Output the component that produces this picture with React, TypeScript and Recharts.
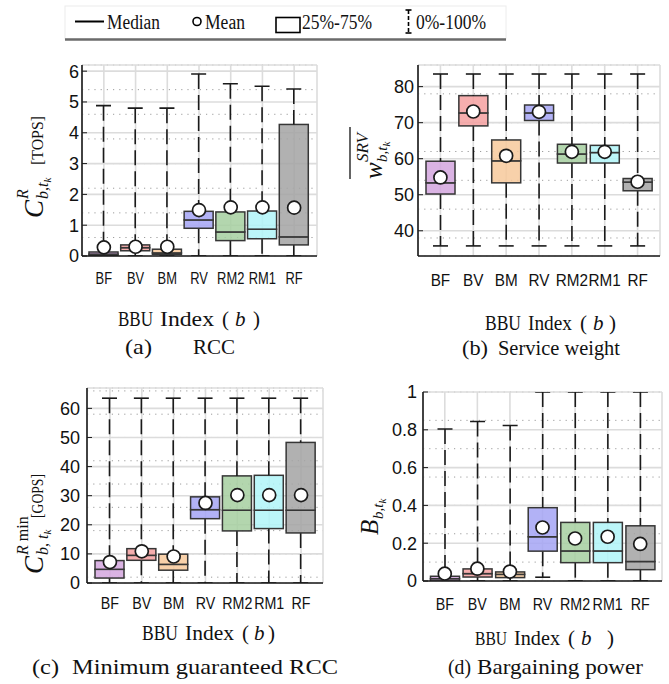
import React from "react";
import { ComposedChart, Bar, Line, XAxis, YAxis, CartesianGrid } from "recharts";

const bbu = ["BF", "BV", "BM", "RV", "RM2", "RM1", "RF"];
const boxColors = ["#d4a6de", "#f5a0a0", "#f7c99b", "#a5a5f4", "#a6cfa0", "#b0f4f8", "#a3a3a3"];

// (a) RCC [TOPS]
const rccMin = [0, 0, 0, 0, 0, 0, 0];
const rccQ1 = [0.02, 0.17, 0.05, 0.9, 0.5, 0.56, 0.36];
const rccMedian = [0.06, 0.27, 0.1, 1.17, 0.78, 0.87, 0.62];
const rccQ3 = [0.13, 0.36, 0.22, 1.45, 1.43, 1.46, 4.27];
const rccMax = [4.88, 4.8, 4.8, 5.91, 5.59, 5.51, 5.42];
const rccMean = [0.28, 0.3, 0.3, 1.49, 1.58, 1.58, 1.57];

// (b) service weight
const swMin = [35.8, 35.8, 35.8, 35.8, 35.8, 35.8, 35.8];
const swQ1 = [50.2, 69.1, 53.3, 70.6, 58.8, 58.8, 51.1];
const swMedian = [53.3, 72.7, 59.4, 72.7, 61.3, 61.7, 53.5];
const swQ3 = [59.3, 77.5, 65.2, 74.9, 64.0, 63.7, 54.5];
const swMax = [83.5, 83.5, 83.5, 83.5, 83.5, 83.5, 83.5];
const swMean = [54.8, 73.1, 60.8, 73.0, 61.9, 61.9, 53.6];

// (c) minimum guaranteed RCC [GOPS]
const mgMin = [0, 0, 0, 0, 0, 0, 0];
const mgQ1 = [1.7, 7.8, 4.4, 22.1, 17.9, 18.7, 17.2];
const mgMedian = [4.7, 9.5, 6.4, 25.2, 25.0, 25.0, 25.0];
const mgQ3 = [7.7, 11.8, 9.9, 29.6, 36.8, 37.0, 48.3];
const mgMax = [63.5, 63.5, 63.5, 63.5, 63.5, 63.5, 63.5];
const mgMean = [7.2, 10.9, 9.1, 27.5, 30.2, 30.2, 30.2];

// (d) bargaining power
const bpMin = [0, 0, 0, 0.02, 0, 0, 0];
const bpQ1 = [0.0, 0.021, 0.018, 0.158, 0.097, 0.097, 0.06];
const bpMedian = [0.012, 0.039, 0.035, 0.234, 0.159, 0.159, 0.103];
const bpQ3 = [0.025, 0.064, 0.048, 0.388, 0.31, 0.31, 0.292];
const bpMax = [0.804, 0.844, 0.823, 1.0, 1.0, 1.0, 1.0];
const bpMean = [0.039, 0.065, 0.05, 0.283, 0.225, 0.234, 0.196];

const rccTicks = [0, 1, 2, 3, 4, 5, 6];
const swTicks = [40, 50, 60, 70, 80];
const mgTicks = [0, 10, 20, 30, 40, 50, 60];
const bpTicks = [0, 0.2, 0.4, 0.6, 0.8, 1];

const SANS = "'Liberation Sans', Arial, sans-serif";
const SERIF = "'Liberation Serif', 'Times New Roman', serif";
const YW = 40;
const MT = 10;
const MR = 10;
const XH = 44;
const BOX_W = 29;
const CAP_W = 15;
const INK = "#1a1a1a";

const steps = (a: number, b: number, s: number) => {
  const out: number[] = [];
  for (let v = a; v <= b + 1e-9; v += s) out.push(Math.round(v * 1000) / 1000);
  return out;
};

function buildRows(min: number[], q1: number[], med: number[], q3: number[], max: number[], mean: number[]) {
  return bbu.map((name, i) => ({
    name,
    base: min[i],
    lowWhisker: q1[i] - min[i],
    lowBox: med[i] - q1[i],
    highBox: q3[i] - med[i],
    highWhisker: max[i] - q3[i],
    mean: mean[i],
  }));
}

type Cfg = {
  left: number; right: number; top: number; bottom: number;
  domain: [number, number]; ticks: number[]; minor: number[];
  padL: number; padR: number; gap: number; labelDy: number; xScale: number;
};

const Empty = () => <g />;

const LowWhisker = (p: any) => {
  const cx = p.x + p.width / 2;
  const yb = p.y + p.height;
  return (
    <g>
      <line x1={cx} x2={cx} y1={p.y} y2={yb} stroke={INK} strokeWidth={1.6} strokeDasharray="15 6" />
      <line x1={cx - CAP_W / 2} x2={cx + CAP_W / 2} y1={yb} y2={yb} stroke={INK} strokeWidth={1.6} />
    </g>
  );
};

const HighWhisker = (p: any) => {
  const cx = p.x + p.width / 2;
  return (
    <g>
      <line x1={cx} x2={cx} y1={p.y} y2={p.y + p.height} stroke={INK} strokeWidth={1.6} strokeDasharray="15 6" />
      <line x1={cx - CAP_W / 2} x2={cx + CAP_W / 2} y1={p.y} y2={p.y} stroke={INK} strokeWidth={1.6} />
    </g>
  );
};

const BoxPart = (p: any) => (
  <rect x={p.x} y={p.y} width={p.width} height={Math.max(p.height, 0)}
    fill={boxColors[p.index % boxColors.length]} fillOpacity={0.85} stroke="#363636" strokeWidth={1.5} />
);

const MeanDot = (p: any) => (
  <circle key={`m${p.index}`} cx={p.cx} cy={p.cy} r={6.5} fill="#fff" stroke={INK} strokeWidth={1.7} />
);

function BoxPanel({ rows, cfg }: { rows: any[]; cfg: Cfg }) {
  const plotW = cfg.right - cfg.left;
  const plotH = cfg.bottom - cfg.top;
  const xTick = (p: any) => (
    <text transform={`translate(${p.x},${MT + plotH + cfg.labelDy}) scale(${cfg.xScale},1)`} dy="0.36em"
      textAnchor="middle" fontSize={17} fontFamily={SANS} fill="#111">{p.payload.value}</text>
  );
  const yTick = (p: any) => (
    <text x={YW - cfg.gap} y={p.y} dy="0.36em" textAnchor="end"
      fontSize={18} fontFamily={SANS} fill="#111">{p.payload.value}</text>
  );
  return (
    <div style={{ position: "absolute", left: cfg.left - YW, top: cfg.top - MT }}>
      <ComposedChart width={YW + plotW + MR} height={MT + plotH + XH} data={rows}
        margin={{ top: MT, right: MR, bottom: 0, left: 0 }}>
        <YAxis yAxisId="minor" hide type="number" domain={cfg.domain} ticks={cfg.minor} allowDataOverflow />
        <CartesianGrid yAxisId="minor" vertical={false} stroke="#9c9c9c" strokeDasharray="1.2 5" />
        <CartesianGrid stroke="#dcdcdc" strokeWidth={1.6} />
        <XAxis dataKey="name" type="category" interval={0} height={XH}
          padding={{ left: cfg.padL, right: cfg.padR }} tickLine={false}
          axisLine={{ stroke: INK, strokeWidth: 1.6 }} tick={xTick} />
        <YAxis type="number" domain={cfg.domain} ticks={cfg.ticks} allowDataOverflow width={YW}
          interval={0} axisLine={{ stroke: INK, strokeWidth: 1.6 }} tickLine={{ stroke: INK }}
          tickSize={-5} tick={yTick} />
        <Bar dataKey="base" stackId="s" barSize={BOX_W} shape={Empty} isAnimationActive={false} />
        <Bar dataKey="lowWhisker" stackId="s" barSize={BOX_W} shape={LowWhisker} isAnimationActive={false} />
        <Bar dataKey="lowBox" stackId="s" barSize={BOX_W} shape={BoxPart} isAnimationActive={false} />
        <Bar dataKey="highBox" stackId="s" barSize={BOX_W} shape={BoxPart} isAnimationActive={false} />
        <Bar dataKey="highWhisker" stackId="s" barSize={BOX_W} shape={HighWhisker} isAnimationActive={false} />
        <Line dataKey="mean" stroke="none" dot={MeanDot} activeDot={false} isAnimationActive={false} />
      </ComposedChart>
    </div>
  );
}

const cfgA: Cfg = { left: 82, right: 317, top: 65, bottom: 256, domain: [0, 6.2], ticks: rccTicks,
  minor: steps(0, 6.2, 0.2), padL: 6, padR: 7, gap: 3, labelDy: 22, xScale: 0.76 };
const cfgB: Cfg = { left: 418, right: 660, top: 65, bottom: 256, domain: [33, 86], ticks: swTicks,
  minor: steps(34, 86, 2), padL: 6, padR: 6, gap: 4, labelDy: 24, xScale: 0.9 };
const cfgC: Cfg = { left: 87, right: 323, top: 388, bottom: 583, domain: [0, 67], ticks: mgTicks,
  minor: steps(0, 66, 2), padL: 7, padR: 6, gap: 7, labelDy: 20, xScale: 0.84 };
const cfgD: Cfg = { left: 423, right: 662, top: 392, bottom: 581, domain: [0, 1], ticks: bpTicks,
  minor: steps(0, 1, 0.05), padL: 5.5, padR: 5.5, gap: 6, labelDy: 23, xScale: 0.84 };

function T(props: { x: number; y: number; w?: number; size: number; italic?: boolean; children: React.ReactNode }) {
  return (
    <text x={props.x} y={props.y} fontSize={props.size} fontFamily={SERIF} fill="#111"
      fontStyle={props.italic ? "italic" : "normal"}
      textLength={props.w} lengthAdjust={props.w ? "spacingAndGlyphs" : undefined}>
      {props.children}
    </text>
  );
}

function AxisTitle({ xs, y, bbuSize = 21 }: { xs: number[]; y: number; bbuSize?: number }) {
  return (
    <g>
      <T x={xs[0]} y={y} size={bbuSize} w={xs[1] - xs[0] - 7}>BBU</T>
      <T x={xs[1]} y={y} size={21} w={xs[2] - xs[1] - 8}>Index</T>
      <T x={xs[2]} y={y} size={21}>(</T>
      <T x={xs[3]} y={y} size={21} italic>b</T>
      <T x={xs[4]} y={y} size={21}>)</T>
    </g>
  );
}

function Overlay() {
  return (
    <svg width={669} height={684} style={{ position: "absolute", left: 0, top: 0, pointerEvents: "none" }}>
      {/* legend */}
      <rect x={65} y={6} width={441} height={33} fill="#fff" stroke="#ececec" />
      <line x1={65} x2={506} y1={39.5} y2={39.5} stroke="#6b6b6b" strokeWidth={2.5} />
      <line x1={75} x2={104} y1={21.5} y2={21.5} stroke="#000" strokeWidth={2} />
      <T x={107} y={28.5} size={20} w={53}>Median</T>
      <circle cx={197} cy={21.5} r={4} fill="#fff" stroke="#000" strokeWidth={1.6} />
      <T x={205} y={28.5} size={20} w={40}>Mean</T>
      <rect x={276} y={17.5} width={24} height={15} fill="none" stroke="#000" strokeWidth={1.6} />
      <T x={302} y={28.5} size={20} w={70}>25%-75%</T>
      <line x1={408.5} x2={408.5} y1={10} y2={33} stroke="#000" strokeWidth={1.6} strokeDasharray="4 2" />
      <line x1={405.5} x2={411.5} y1={10} y2={10} stroke="#000" strokeWidth={1.6} />
      <line x1={405.5} x2={411.5} y1={33} y2={33} stroke="#000" strokeWidth={1.6} />
      <T x={416} y={28.5} size={20} w={70}>0%-100%</T>

      {/* y labels */}
      <g transform="translate(43,218) rotate(-90)" fontFamily={SERIF} fill="#111">
        <text x={0} y={0} fontSize={27} fontStyle="italic">C</text>
        <text x={19} y={-15} fontSize={16} fontStyle="italic">R</text>
        <text x={19} y={5} fontSize={16} fontStyle="italic">b,t<tspan dy={3} fontSize={11}>k</tspan></text>
        <text x={53} y={0} fontSize={17} textLength={49} lengthAdjust="spacingAndGlyphs">[TOPS]</text>
      </g>
      <g transform="translate(382,179) rotate(-90)" fontFamily={SERIF} fill="#111">
        <text x={0} y={0} fontSize={25} fontStyle="italic">w</text>
        <text x={17} y={-14} fontSize={17} fontStyle="italic">SRV</text>
        <text x={17} y={5} fontSize={15} fontStyle="italic">b,t<tspan dy={3} fontSize={11}>k</tspan></text>
        <line x1={0} x2={52} y1={-32} y2={-32} stroke="#111" strokeWidth={1.3} />
      </g>
      <g transform="translate(43,574) rotate(-90)" fontFamily={SERIF} fill="#111">
        <text x={0} y={0} fontSize={27} fontStyle="italic">C</text>
        <text x={19} y={-15} fontSize={16}><tspan fontStyle="italic">R</tspan> min</text>
        <text x={19} y={5} fontSize={16} fontStyle="italic">b, t<tspan dy={3} fontSize={11}>k</tspan></text>
        <text x={56} y={0} fontSize={17} textLength={44} lengthAdjust="spacingAndGlyphs">[GOPS]</text>
      </g>
      <g transform="translate(378,535) rotate(-90)" fontFamily={SERIF} fill="#111">
        <text x={0} y={0} fontSize={25} fontStyle="italic">B</text>
        <text x={16} y={5} fontSize={15} fontStyle="italic">b,t<tspan dy={3} fontSize={11}>k</tspan></text>
      </g>

      {/* x titles */}
      <AxisTitle xs={[118, 160, 222, 235, 253]} y={326} />
      <AxisTitle xs={[485, 528, 580, 593, 609]} y={330} />
      <AxisTitle xs={[142, 185, 242, 254, 268]} y={640} />
      <AxisTitle xs={[475, 514, 568, 581, 607]} y={645} bbuSize={18} />

      {/* captions */}
      <T x={125} y={354} size={21} w={27}>(a)</T>
      <T x={193} y={354} size={21} w={42}>RCC</T>
      <T x={462} y={355} size={21} w={26}>(b)</T>
      <T x={498} y={355} size={21} w={122}>Service weight</T>
      <T x={32} y={674} size={22} w={27}>(c)</T>
      <T x={72} y={674} size={22} w={266}>Minimum guaranteed RCC</T>
      <T x={448} y={674} size={22} w={23}>(d)</T>
      <T x={477} y={674} size={22} w={166}>Bargaining power</T>
    </svg>
  );
}

export default function App() {
  const rowsA = buildRows(rccMin, rccQ1, rccMedian, rccQ3, rccMax, rccMean);
  const rowsB = buildRows(swMin, swQ1, swMedian, swQ3, swMax, swMean);
  const rowsC = buildRows(mgMin, mgQ1, mgMedian, mgQ3, mgMax, mgMean);
  const rowsD = buildRows(bpMin, bpQ1, bpMedian, bpQ3, bpMax, bpMean);
  return (
    <div style={{ position: "absolute", left: 0, top: 0, width: 669, height: 684, background: "#fff", overflow: "hidden" }}>
      <BoxPanel rows={rowsA} cfg={cfgA} />
      <BoxPanel rows={rowsB} cfg={cfgB} />
      <BoxPanel rows={rowsC} cfg={cfgC} />
      <BoxPanel rows={rowsD} cfg={cfgD} />
      <Overlay />
    </div>
  );
}
